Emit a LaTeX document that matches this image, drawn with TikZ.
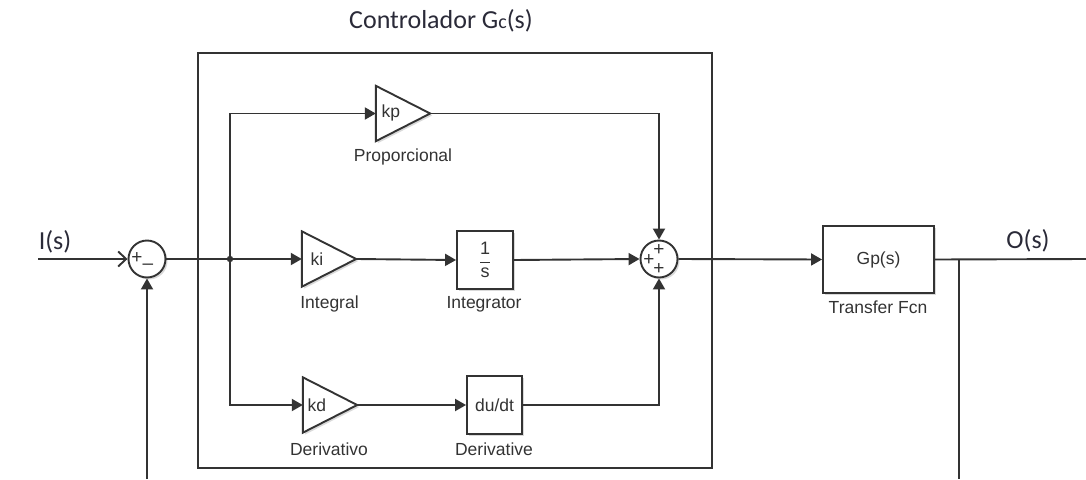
\documentclass[tikz,border=0pt]{standalone}
\usepackage{fontspec}
\setmainfont{Liberation Sans}
\newfontfamily\calfont{Carlito}
\usetikzlibrary{arrows.meta,shadows,calc}
\definecolor{linec}{HTML}{333333}
\definecolor{txtc}{HTML}{333333}
\definecolor{titc}{HTML}{2A2A38}
\newcommand\gaintri[1]{%
  \fill[black!25,opacity=.6] ($(#1.north west)+(2,2)$) -- ($(#1.east)+(2,2)$) -- ($(#1.south west)+(2,2)$) -- cycle;
  \filldraw[fill=white,draw=linec,line width=1.9pt,line join=miter] (#1.north west) -- (#1.east) -- (#1.south west) -- cycle;}
\begin{document}
\begin{tikzpicture}[x=1pt,y=-1pt,
  ln/.style={line width=1.9pt, draw=linec},
  arr/.style={ln, -{Triangle[length=11pt,width=12pt]}},
  barb/.style={ln, -{Straight Barb[length=8pt,width=15pt,line width=1.9pt]}},
  blk/.style={draw=linec, line width=1.9pt, fill=white, inner sep=0pt,
    drop shadow={shadow xshift=2pt,shadow yshift=-2pt,fill=black!25,opacity=.6}},
  sumc/.style={blk, circle, minimum size=37pt},
  lbl/.style={font=\fontsize{17.5}{20}\selectfont, text=txtc, anchor=base},
  inl/.style={font=\fontsize{17.5}{20}\selectfont, text=txtc},
  big/.style={font=\calfont\fontsize{26}{30}\selectfont, text=titc, anchor=base},
  sgn/.style={font=\fontsize{19}{19}\selectfont, text=linec, inner sep=0pt},
  tri/.style={minimum width=54pt, minimum height=55pt, inner sep=0pt}
]
\useasboundingbox (0,0) rectangle (1086,479);

% controller frame
\node[draw=linec, line width=1.9pt, minimum width=514pt, minimum height=415pt, inner sep=0pt] (ctrl) at (455,260.5) {};
\node[big] (tit) at (441,28) {Controlador G{\fontsize{20}{20}\selectfont c}(s)};

% blocks
\node[sumc] (s1) at (147,259) {};
\node[sumc] (s2) at (659,259) {};
\node[tri] (kp) at (403,113.5) {};
\node[tri] (ki) at (329,259) {};
\node[tri] (kd) at (330,405) {};
\gaintri{kp}
\gaintri{ki}
\gaintri{kd}
\node[blk, minimum width=56pt, minimum height=58pt, font=\fontsize{18}{21}\selectfont, text=txtc] (int) at (485,260) {$\displaystyle\frac{\mbox{1}}{\mbox{s}}$};
\node[blk, minimum width=55pt, minimum height=58pt, font=\fontsize{17.5}{20}\selectfont, text=txtc] (der) at (494.5,405) {du/dt};
\node[blk, minimum width=111pt, minimum height=67pt, font=\fontsize{17.5}{20}\selectfont, text=txtc] (gp) at (878.5,259.5) {Gp(s)};

% texts inside gains
\node[inl, anchor=west] (tkp) at (378,113) {kp};
\node[inl, anchor=west] (tki) at (307,259) {ki};
\node[inl, anchor=west] (tkd) at (304,405) {kd};

% sum signs
\node[sgn] (p1) at (137,258) {+};
\node[sgn] (m1) at (148,267) {–};
\node[sgn] (p2a) at (659,250) {+};
\node[sgn] (p2b) at (649,260) {+};
\node[sgn] (p2c) at (659,269) {+};

% labels
\node[lbl] (lkp) at (403,161) {Proporcional};
\node[lbl] (lki) at (329.5,308) {Integral};
\node[lbl] (lint) at (484,308) {Integrator};
\node[lbl] (lkd) at (329,455) {Derivativo};
\node[lbl] (lder) at (494,455) {Derivative};
\node[lbl] (lgp) at (878,313) {Transfer Fcn};
\node[big] (is) at (55,249) {I(s)};
\node[big] (os) at (1028,248) {O(s)};

% coordinates
\coordinate (istart) at (38,259);
\coordinate (br) at (230,259);
\coordinate (fbl) at (147,479);
\coordinate (oend) at (1086,259);
\coordinate (fbr) at (959,259);
\coordinate (fbrb) at (959,479);

% connectors
\draw[barb] (istart) -- (s1.west);
\draw[arr] (s1.east) -- (ki.west);
\draw[arr] (br) |- (kp.west);
\draw[arr] (br) |- (kd.west);
\fill[linec] (br) circle (3.2);
\draw[arr] (kp.east) -| (s2.north);
\draw[arr] (ki.east) -- (int.west);
\draw[arr] (int.east) -- (s2.west);
\draw[arr] (kd.east) -- (der.west);
\draw[arr] (der.east) -| (s2.south);
\draw[arr] (s2.east) -- (gp.west);
\draw[ln] (gp.east) -- (oend);
\draw[ln] (fbr) -- (fbrb);
\draw[arr] (fbl) -- (s1.south);
\end{tikzpicture}
\end{document}
